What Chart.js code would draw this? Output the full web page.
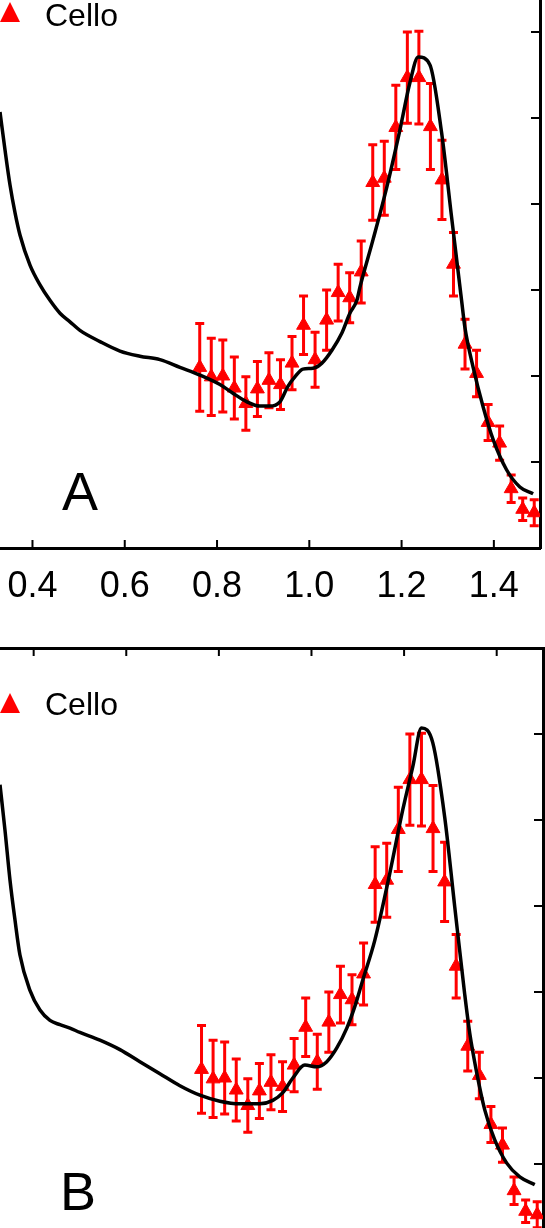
<!DOCTYPE html>
<html>
<head>
<meta charset="utf-8">
<script src="https://cdn.jsdelivr.net/npm/chart.js@4.4.1/dist/chart.umd.min.js"></script>
<style>
  html, body { margin: 0; padding: 0; background: #fff; overflow: hidden; }
  #page { position: relative; width: 545px; height: 1228px; overflow: hidden; background: #fff; }
  canvas { position: absolute; left: 0; }
  #chartA { top: 0; }
  #chartB { top: 640px; }
</style>
</head>
<body>
<div id="page">
  <canvas id="chartA" width="545" height="640"></canvas>
  <canvas id="chartB" width="545" height="610"></canvas>
</div>
<script>
// Cello measurements (same data in both panels)
var celloX = [0.7625, 0.7875, 0.8125, 0.8375, 0.8625, 0.8875, 0.9125, 0.9375, 0.9625, 0.9875,
              1.0125, 1.0375, 1.0625, 1.0875, 1.1125, 1.1375, 1.1625, 1.1875, 1.2125, 1.2375,
              1.2625, 1.2875, 1.3125, 1.3375, 1.3625, 1.3875, 1.4125, 1.4375, 1.4625, 1.4875];
var celloY = [2.10, 1.99, 2.00, 1.86, 1.68, 1.85, 1.95, 1.90, 2.15, 2.59,
              2.19, 2.65, 2.97, 2.91, 3.21, 4.25, 4.30, 4.89, 5.47, 5.47,
              4.90, 4.28, 3.30, 2.37, 2.03, 1.46, 1.22, 0.69, 0.45, 0.41];
var celloErr = [0.51, 0.45, 0.42, 0.36, 0.31, 0.32, 0.32, 0.29, 0.31, 0.34,
                0.32, 0.35, 0.33, 0.29, 0.36, 0.44, 0.43, 0.49, 0.53, 0.54,
                0.50, 0.46, 0.37, 0.29, 0.27, 0.21, 0.20, 0.16, 0.13, 0.15];

// model curve, panel A
var curveAX = [0.3296, 0.3404, 0.3513, 0.3621, 0.3729, 0.3946, 0.4163, 0.4379, 0.4596, 0.4813,
               0.5029, 0.5463, 0.5896, 0.6329, 0.6763, 0.7196, 0.7629, 0.8063, 0.8344, 0.8648,
               0.8929, 0.9146, 0.9363, 0.9536, 0.9688, 0.9861, 1.0078, 1.0273, 1.0490, 1.0706,
               1.0879, 1.1031, 1.1096, 1.1378, 1.1681, 1.1963, 1.2180, 1.2360, 1.2613, 1.2867,
               1.3083, 1.3300, 1.3371, 1.3551, 1.3768, 1.3985, 1.4275, 1.4563, 1.4851];
var curveAY = [5.07, 4.63, 4.22, 3.90, 3.64, 3.29, 3.06, 2.88, 2.73, 2.63,
               2.53, 2.40, 2.29, 2.23, 2.19, 2.10, 2.01, 1.90, 1.80, 1.70,
               1.65, 1.65, 1.70, 1.88, 1.99, 2.08, 2.09, 2.15, 2.30, 2.50,
               2.73, 2.88, 3.03, 3.58, 4.20, 4.86, 5.41, 5.71, 5.62, 4.83,
               3.85, 2.88, 2.57, 2.10, 1.64, 1.26, 0.91, 0.71, 0.63];

// model curve, panel B
var curveBX = [0.3273, 0.3381, 0.3489, 0.3596, 0.3704, 0.3920, 0.4136, 0.4352, 0.4568, 0.4784,
               0.4999, 0.5431, 0.5863, 0.6294, 0.6726, 0.7158, 0.7590, 0.8021, 0.8453, 0.8885,
               0.9165, 0.9381, 0.9597, 0.9856, 1.0115, 1.0331, 1.0547, 1.0763, 1.0935, 1.1108,
               1.1367, 1.1691, 1.1972, 1.2188, 1.2375, 1.2619, 1.2878, 1.3094, 1.3310, 1.3418,
               1.3569, 1.3742, 1.3958, 1.4217, 1.4498, 1.4822];
var curveBY = [5.41, 4.88, 4.30, 3.84, 3.43, 3.02, 2.79, 2.67, 2.62, 2.58,
               2.53, 2.44, 2.33, 2.19, 2.05, 1.91, 1.80, 1.73, 1.70, 1.70,
               1.74, 1.83, 2.00, 2.15, 2.13, 2.19, 2.35, 2.58, 2.83, 3.14,
               3.60, 4.38, 5.12, 5.62, 6.07, 5.90, 5.03, 3.99, 2.97, 2.52,
               2.06, 1.63, 1.28, 1.01, 0.85, 0.76];

var xTickValues = [0.4, 0.6, 0.8, 1.0, 1.2, 1.4];
var yTickValues = [0, 1, 2, 3, 4, 5, 6, 7];

var FONT = '"Liberation Sans", Arial, sans-serif';

// error bars drawn under the markers
var errorBars = {
    id: 'errorBars',
    beforeDatasetsDraw: function (chart) {
        var ctx = chart.ctx, xs = chart.scales.x, ys = chart.scales.y;
        ctx.save();
        ctx.strokeStyle = '#ff0000';
        ctx.lineWidth = 3;
        celloX.forEach(function (x, i) {
            var px = xs.getPixelForValue(x);
            var top = ys.getPixelForValue(celloY[i] + celloErr[i]);
            var bot = ys.getPixelForValue(celloY[i] - celloErr[i]);
            ctx.beginPath();
            ctx.moveTo(px, top); ctx.lineTo(px, bot);
            ctx.moveTo(px - 4.5, top); ctx.lineTo(px + 4.5, top);
            ctx.moveTo(px - 4.5, bot); ctx.lineTo(px + 4.5, bot);
            ctx.stroke();
        });
        ctx.restore();
    }
};

// tick marks pointing into the plot
var innerTicks = {
    id: 'innerTicks',
    afterDraw: function (chart, args, opts) {
        var ctx = chart.ctx, area = chart.chartArea;
        var xs = chart.scales.x, ys = chart.scales.y;
        var edge = opts.xEdge === 'top' ? area.top : area.bottom;
        var dir = opts.xEdge === 'top' ? 1 : -1;
        ctx.save();
        ctx.strokeStyle = '#000';
        ctx.lineWidth = 2;
        ctx.beginPath();
        xs.ticks.forEach(function (t) {
            var px = xs.getPixelForValue(t.value);
            ctx.moveTo(px, edge); ctx.lineTo(px, edge + dir * 8);
        });
        ys.ticks.forEach(function (t) {
            var py = ys.getPixelForValue(t.value);
            ctx.moveTo(area.right, py); ctx.lineTo(area.right - 9, py);
        });
        ctx.stroke();
        ctx.restore();
    }
};

// legend entry and panel letter
var panelText = {
    id: 'panelText',
    afterDraw: function (chart, args, opts) {
        var ctx = chart.ctx;
        var lx = opts.legendX, ly = opts.legendY;
        ctx.save();
        ctx.fillStyle = '#ff0000';
        ctx.beginPath();
        ctx.moveTo(lx + 10, ly - 10);
        ctx.lineTo(lx + 20, ly + 10);
        ctx.lineTo(lx, ly + 10);
        ctx.closePath();
        ctx.fill();
        ctx.fillStyle = '#000';
        ctx.textBaseline = 'alphabetic';
        ctx.textAlign = 'left';
        ctx.font = '32px ' + FONT;
        ctx.fillText(chart.data.datasets[1].label, lx + 45, opts.textY);
        ctx.font = '54px ' + FONT;
        ctx.fillText(opts.letter, opts.letterX, opts.letterY);
        ctx.restore();
    }
};

function toPoints(xs, ys) {
    return xs.map(function (x, i) { return { x: x, y: ys[i] }; });
}

function makeChart(id, curveX, curveY, panel) {
    var ctx = document.getElementById(id).getContext('2d');
    return new Chart(ctx, {
        type: 'scatter',
        data: {
            datasets: [{
                label: 'Model',
                data: toPoints(curveX, curveY),
                showLine: true,
                borderColor: '#000',
                borderWidth: 3.5,
                pointRadius: 0,
                cubicInterpolationMode: 'monotone',
                fill: false
            }, {
                label: 'Cello',
                data: toPoints(celloX, celloY),
                showLine: false,
                pointStyle: 'triangle',
                pointRadius: 8,
                pointBackgroundColor: '#ff0000',
                pointBorderColor: '#ff0000',
                pointBorderWidth: 1
            }]
        },
        options: {
            responsive: false,
            animation: false,
            devicePixelRatio: 1,
            layout: { padding: 0, autoPadding: false },
            plugins: {
                legend: { display: false },
                tooltip: { enabled: false },
                innerTicks: { xEdge: panel.xEdge },
                panelText: panel.text
            },
            scales: {
                x: {
                    type: 'linear',
                    position: panel.xEdge,
                    min: panel.xMin,
                    max: 1.5,
                    grid: { display: false },
                    border: { display: true, color: '#000', width: 3 },
                    ticks: {
                        display: panel.xLabels,
                        autoSkip: false,
                        maxRotation: 0,
                        padding: 9,
                        color: '#000',
                        font: { family: FONT, size: 36 },
                        callback: function (v) { return Number(v).toFixed(1); }
                    },
                    afterBuildTicks: function (scale) {
                        scale.ticks = xTickValues.map(function (v) { return { value: v }; });
                    },
                    afterFit: function (scale) {
                        scale.height = panel.xHeight;
                        scale.paddingLeft = 0;
                        scale.paddingRight = 0;
                    }
                },
                y: {
                    type: 'linear',
                    position: 'right',
                    min: 0,
                    max: panel.yMax,
                    grid: { display: false },
                    border: { display: true, color: '#000', width: 3 },
                    ticks: { display: false },
                    afterBuildTicks: function (scale) {
                        scale.ticks = yTickValues.filter(function (v) { return v <= panel.yMax; })
                            .map(function (v) { return { value: v }; });
                    },
                    afterFit: function (scale) {
                        scale.width = panel.yWidth;
                        scale.paddingTop = 0;
                        scale.paddingBottom = 0;
                    }
                }
            }
        },
        plugins: [errorBars, innerTicks, panelText]
    });
}

makeChart('chartA', curveAX, curveAY, {
    xEdge: 'bottom', xLabels: true, xMin: 0.3296, xHeight: 92,
    yMax: 6.372, yWidth: 5,
    text: { legendX: 0, legendY: 12, textY: 26, letter: 'A', letterX: 62, letterY: 510 }
});

makeChart('chartB', curveBX, curveBY, {
    xEdge: 'top', xLabels: false, xMin: 0.3273, xHeight: 8,
    yMax: 7, yWidth: 2,
    text: { legendX: 0, legendY: 63, textY: 75, letter: 'B', letterX: 60, letterY: 570 }
});
</script>
</body>
</html>
